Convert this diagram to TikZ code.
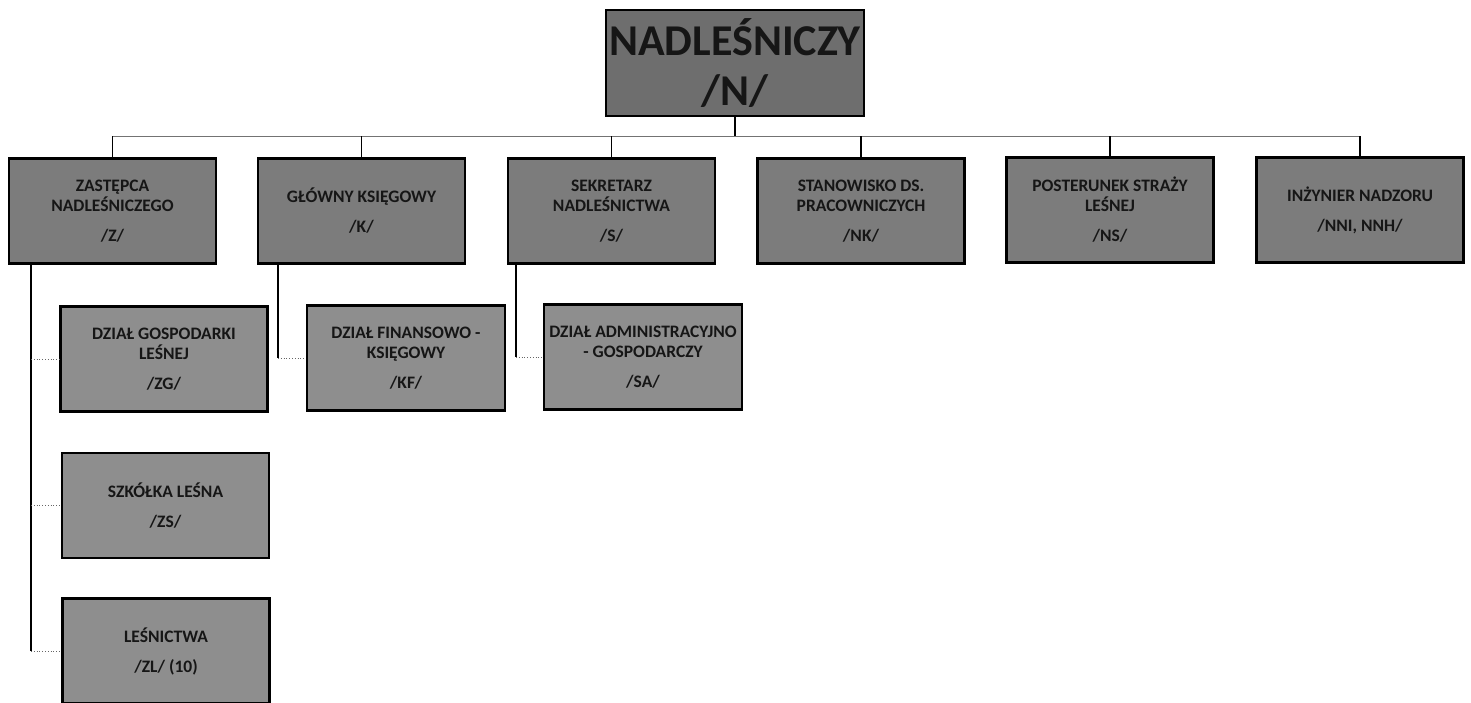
\documentclass[tikz,border=0pt]{standalone}
\usepackage{fontspec}
\setmainfont{Carlito}
\definecolor{topfill}{HTML}{6E6E6E}
\definecolor{midfill}{HTML}{7C7C7C}
\definecolor{lowfill}{HTML}{8E8E8E}
\definecolor{txt}{HTML}{161616}
\tikzset{
  orgbox/.style={draw=black, line width=2.6pt, fill=midfill, minimum width=207pt, minimum height=105pt,
    align=center, font=\fontsize{17.5}{20}\selectfont\bfseries, text=txt, inner sep=2pt},
  topbox/.style={orgbox, fill=topfill, minimum width=258pt, minimum height=106pt, font=\fontsize{44}{50}\selectfont\bfseries},
  subbox/.style={orgbox, fill=lowfill},
  hline/.style={draw=black!55, line width=1pt},
  vline/.style={draw=black, line width=1.6pt},
  stub/.style={draw=black!60, line width=0.8pt, dotted},
}
\newcommand{\codegap}{\\[10pt]}
\begin{document}
\begin{tikzpicture}[x=1pt,y=-1pt]
\useasboundingbox (0,0) rectangle (1471,702);
\node[topbox] (N) at (735,63) {NADLEŚNICZY\\/N/};
\node[orgbox] (Z) at (112.5,211) {ZASTĘPCA\\NADLEŚNICZEGO\codegap/Z/};
\node[orgbox] (K) at (361.5,211) {GŁÓWNY KSIĘGOWY\codegap/K/};
\node[orgbox] (S) at (611.5,211) {SEKRETARZ\\NADLEŚNICTWA\codegap/S/};
\node[orgbox] (NK) at (861,211) {STANOWISKO DS.\\PRACOWNICZYCH\codegap/NK/};
\node[orgbox] (NS) at (1110,210) {POSTERUNEK STRAŻY\\LEŚNEJ\codegap/NS/};
\node[orgbox] (NN) at (1360,210) {INŻYNIER NADZORU\codegap/NNI, NNH/};
\node[subbox] (ZG) at (164,359) {DZIAŁ GOSPODARKI\\LEŚNEJ\codegap/ZG/};
\node[subbox] (ZS) at (165.5,505.5) {SZKÓŁKA LEŚNA\codegap/ZS/};
\node[subbox] (ZL) at (166,651) {LEŚNICTWA\codegap/ZL/ (10)};
\node[subbox, minimum width=198pt] (KF) at (406,358) {DZIAŁ FINANSOWO -\\KSIĘGOWY\codegap/KF/};
\node[subbox, minimum width=198pt, inner sep=0pt] (SA) at (643,357) {DZIAŁ ADMINISTRACYJNO\\- GOSPODARCZY\codegap/SA/};
\coordinate (bus) at (0,136);
\coordinate (zx) at (31,0);
\coordinate (kx) at (278,0);
\coordinate (sx) at (516,0);
% top bus
\draw[hline] (Z.north |- bus) -- (NN.north |- bus);
\draw[vline] (N.south) -- (N.south |- bus);
\foreach \b in {Z,K,S,NK,NS,NN} \draw[vline] (\b.north |- bus) -- (\b.north);
% Z children
\draw[vline] (Z.south -| zx) -- (zx |- ZL.west);
\foreach \b in {ZG,ZS,ZL} \draw[stub] (zx |- \b.west) -- (\b.west);
% K child
\draw[vline] (K.south -| kx) -- (kx |- KF.west);
\draw[stub] (kx |- KF.west) -- (KF.west);
% S child
\draw[vline] (S.south -| sx) -- (sx |- SA.west);
\draw[stub] (sx |- SA.west) -- (SA.west);
\end{tikzpicture}
\end{document}
